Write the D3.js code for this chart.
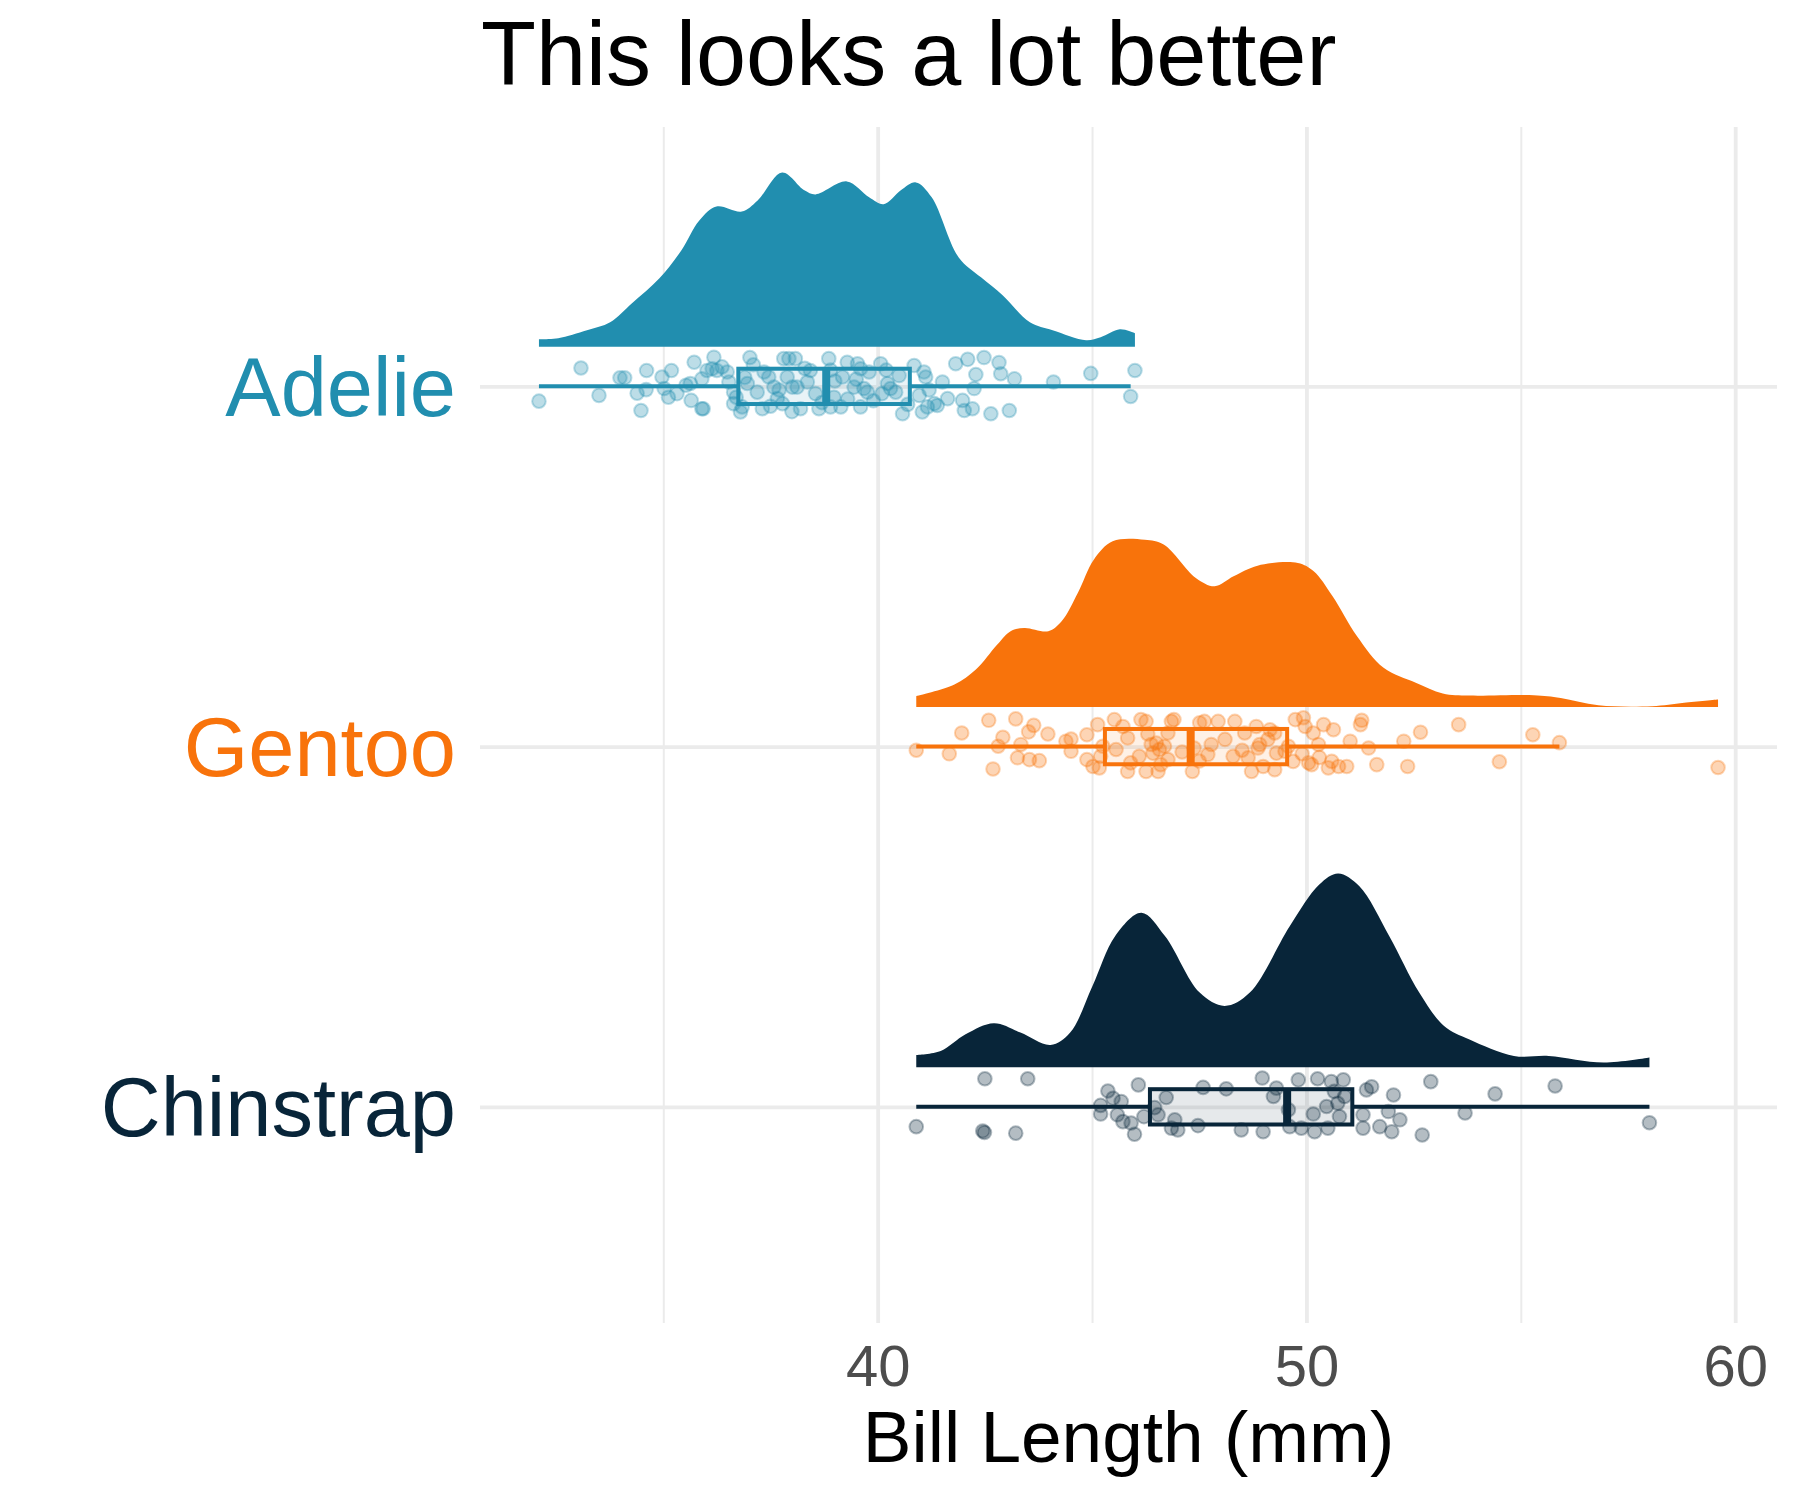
<!DOCTYPE html>
<html>
<head>
<meta charset="utf-8">
<script src="https://cdn.jsdelivr.net/npm/d3@7"></script>
<style>
  body { margin: 0; background: #fff; }
  svg { font-family: "Liberation Sans", Arial, Helvetica, sans-serif; }
</style>
</head>
<body>
<div id="chart"></div>
<script>
// species from top to bottom, colours
const species = ['Adelie', 'Gentoo', 'Chinstrap'];
const speciesColors = ['#218EAF', '#F8730B', '#082539'];
const majorTicks = [40, 50, 60];
const minorTicks = [35, 45, 55];

// density outline of each half-eye: [bill length, relative thickness]
const adelieDensity = [
  [32.1, 0.039], [32.55, 0.044], [33.22, 0.085], [33.76, 0.126], [34.27, 0.224],
  [34.91, 0.353], [35.42, 0.497], [35.84, 0.652], [36.24, 0.724], [36.83, 0.698],
  [37.2, 0.755], [37.77, 0.899], [38.29, 0.807], [38.55, 0.786], [39.28, 0.853],
  [39.8, 0.771], [40.14, 0.735], [40.54, 0.807], [40.89, 0.848], [41.26, 0.771],
  [41.89, 0.461], [42.41, 0.358], [42.92, 0.265], [43.55, 0.126], [44.08, 0.085],
  [44.86, 0.034], [45.2, 0.049], [45.65, 0.09], [46.0, 0.07]
];
const gentooDensity = [
  [40.9, 0.056], [41.79, 0.116], [42.29, 0.193], [42.79, 0.322], [43.1, 0.391],
  [43.42, 0.408], [43.98, 0.391], [44.29, 0.442], [44.67, 0.589], [45.04, 0.76],
  [45.48, 0.855], [46.23, 0.863], [46.67, 0.838], [47.42, 0.666], [47.86, 0.623],
  [48.3, 0.674], [48.86, 0.729], [49.8, 0.743], [50.17, 0.7], [50.61, 0.571],
  [51.18, 0.365], [51.8, 0.202], [52.55, 0.125], [53.18, 0.07], [53.8, 0.059],
  [55.3, 0.061], [55.93, 0.047], [56.81, 0.009], [58.06, 0.004], [58.81, 0.022],
  [59.6, 0.039]
];
const chinstrapDensity = [
  [40.9, 0.063], [41.47, 0.084], [42.05, 0.17], [42.71, 0.227], [43.33, 0.179],
  [44.03, 0.115], [44.49, 0.179], [45.01, 0.419], [45.54, 0.677], [46.15, 0.797],
  [46.7, 0.677], [47.51, 0.385], [48.09, 0.316], [48.68, 0.385], [49.61, 0.728],
  [50.3, 0.943], [50.74, 1.0], [51.23, 0.935], [51.93, 0.677], [52.63, 0.385],
  [53.21, 0.213], [53.79, 0.144], [54.84, 0.058], [55.65, 0.058], [56.93, 0.024],
  [58.0, 0.05]
];

// box stats: [lower whisker, q1, median, q3, upper whisker]
const adelieBox = [32.1, 36.75, 38.8, 40.75, 45.9];
const gentooBox = [40.9, 45.3, 47.3, 49.55, 55.9];
const chinstrapBox = [40.9, 46.35, 49.55, 51.07, 58.0];

// jittered observations: [bill length, vertical jitter in category units]
const adeliePoints = [
  [32.1, .041], [33.08, -.051], [33.5, .025], [33.99, -.024], [34.1, -.024], [34.39, .019],
  [34.48, .067], [34.61, -.044], [34.6, .009], [34.97, -.026], [35.02, .006], [35.19, -.044],
  [35.12, .03], [35.32, .02], [35.53, -.003], [35.63, -.008], [35.65, .039], [35.72, -.067],
  [35.9, .062], [35.93, .062], [35.9, -.021], [36.02, -.044], [36.18, -.081], [36.14, -.049],
  [36.25, -.044], [36.37, -.054], [36.49, -.04], [36.53, -.012], [36.64, .048], [36.8, .071],
  [36.84, .057], [36.64, .016], [37.02, -.08], [36.96, -.008], [37.19, .016], [37.31, .062],
  [37.35, -.04], [37.46, -.026], [37.58, .002], [37.66, .034], [37.78, .048], [37.81, -.077],
  [37.89, -.026], [37.93, -.077], [38.01, .002], [38.08, -.077], [38.12, .002], [38.2, .062],
  [38.36, -.012], [38.43, -.044], [38.55, .02], [38.63, .062], [38.86, -.077], [38.9, .057],
  [38.98, .03], [39.14, .057], [39.18, -.026], [39.29, -.067], [39.45, .002], [39.53, -.063],
  [39.6, -.049], [39.6, .057], [39.68, .006], [39.76, .016], [39.8, -.04], [40.07, -.063],
  [40.23, -.008], [40.3, .006], [40.42, .016], [40.58, .076], [40.85, -.058], [40.97, .025],
  [41.08, -.04], [41.12, -.026], [41.04, .071], [41.16, .057], [41.32, .048], [41.39, .053],
  [41.51, -.012], [41.63, .034], [41.82, -.063], [41.98, .039], [42.02, .067], [42.1, -.075],
  [42.21, .062], [42.25, .006], [42.29, -.033], [42.48, -.08], [42.64, .076], [42.83, -.066],
  [42.87, -.035], [43.07, .067], [43.19, -.021], [44.1, -.012], [44.97, -.036], [45.9, .028],
  [46.0, -.044],
  [36.7, .03], [37.1, -.06], [37.7, .01], [38.0, .07], [38.3, -.05], [38.7, .045],
  [39.0, -.015], [39.3, .035], [39.9, .04], [40.1, .02], [40.5, -.03], [40.7, .05],
  [37.5, .055], [38.9, -.045], [39.5, -.02], [40.2, -.045], [36.9, -.025], [41.2, .01]
];
const gentooPoints = [
  [40.9, .01], [41.67, .02], [41.96, -.038], [42.59, -.073], [42.69, .062], [42.81, -.001],
  [42.92, -.026], [43.22, -.077], [43.26, .031], [43.34, -.006], [43.52, -.041], [43.64, -.059],
  [43.54, .036], [43.77, .039], [43.97, -.035], [44.39, -.015], [44.51, -.021], [44.51, .013],
  [44.88, -.033], [44.88, .036], [45.02, .055], [45.13, -.061], [45.17, .059], [45.2, .027],
  [45.25, -.001], [45.52, -.075], [45.56, .008], [45.72, -.056], [45.83, .069], [45.83, -.024],
  [46.1, .027], [46.14, -.075], [46.26, -.07], [46.26, .069], [46.38, -.006], [46.42, .018],
  [46.5, -.01], [46.54, .069], [46.57, .008], [46.69, -.001], [46.77, .036], [46.85, -.07],
  [46.91, -.075], [46.77, -.038], [47.34, .069], [47.38, .004], [47.51, -.066], [47.62, -.07],
  [47.7, .022], [47.78, -.006], [47.94, -.07], [48.29, .027], [48.33, -.07], [48.56, -.038],
  [48.64, .031], [48.72, .069], [48.83, -.056], [48.87, .004], [48.91, -.006], [48.99, .055],
  [49.15, -.047], [49.26, .064], [49.3, .018], [49.26, -.038], [49.5, .013], [49.58, -.001],
  [49.69, .041], [49.74, -.075], [49.93, -.08], [49.97, -.056], [50.05, .045], [50.12, .05],
  [50.16, -.038], [50.28, -.006], [50.4, -.061], [50.51, .059], [50.63, -.047], [50.59, .041],
  [50.75, .055], [50.94, .055], [51.02, -.015], [51.26, -.061], [51.29, -.073], [51.45, .004],
  [51.64, .05], [52.27, -.015], [52.36, .055], [52.66, -.04], [53.55, -.061], [54.5, .042],
  [55.28, -.033], [55.9, -.011], [59.6, .058],
  [45.9, .045], [46.3, -.035], [46.6, .05], [47.1, .015], [47.5, .04], [48.1, -.02],
  [48.5, .01], [49.1, -.02], [49.9, .02], [50.3, .03]
];
const chinstrapPoints = [
  [40.9, .055], [42.5, -.078], [42.45, .067], [42.49, .071], [43.22, .073], [43.5, -.078],
  [45.2, -.004], [45.2, .02], [45.37, -.044], [45.49, -.024], [45.59, .022], [45.68, -.015],
  [45.72, .041], [45.91, .045], [45.99, .076], [46.08, -.061], [46.21, .027], [46.46, .002],
  [46.54, .022], [46.73, -.026], [46.85, .059], [46.93, .036], [47.0, .064], [47.47, .052],
  [47.59, -.054], [48.13, -.05], [48.48, .064], [48.99, .069], [48.97, -.08], [49.23, -.029],
  [49.3, -.052], [49.58, .008], [49.61, .055], [49.81, -.075], [49.88, .059], [50.16, .02],
  [50.19, .069], [50.26, -.078], [50.47, -.001], [50.5, .059], [50.58, -.07], [50.65, -.043],
  [50.73, -.01], [50.77, .027], [50.86, -.075], [50.89, -.029], [51.32, .022], [51.32, .059],
  [51.4, -.047], [51.52, -.056], [51.71, .055], [51.91, .013], [51.99, .069], [52.03, -.033],
  [52.18, .036], [52.7, .078], [52.9, -.07], [53.7, .017], [54.4, -.036], [55.8, -.058],
  [58.0, .044]
];

const densities = [adelieDensity, gentooDensity, chinstrapDensity];
const boxes = [adelieBox, gentooBox, chinstrapBox];
const points = [adeliePoints, gentooPoints, chinstrapPoints];

const W = 1800, H = 1500;
const panel = { left: 480, right: 1777, top: 127, bottom: 1323 };

const svg = d3.select('#chart')
  .append('svg')
  .attr('width', W)
  .attr('height', H);

// x: bill length, padded by 5% like ggplot
const allValues = points.flat().map(d => d[0]);
const [xmin, xmax] = d3.extent(allValues);
const pad = (xmax - xmin) * 0.05;
const x = d3.scaleLinear()
  .domain([xmin - pad, xmax + pad])
  .range([panel.left, panel.right]);

// y: species index, top species at 0
const y = d3.scaleLinear()
  .domain([-0.72, 2.6])
  .range([panel.top, panel.bottom]);

const slabOffset = 0.11;   // gap between slab baseline and category line
const slabScale = 0.538;   // thickness 1 -> this many category units
const boxHalf = 0.049;

const gridColor = '#EBEBEB';

// minor + major vertical grid
svg.append('g')
  .attr('transform', `translate(0,${panel.bottom})`)
  .call(d3.axisBottom(x).tickValues(minorTicks).tickSize(-(panel.bottom - panel.top)).tickFormat(''))
  .call(g => g.select('.domain').remove())
  .selectAll('line').attr('stroke', gridColor).attr('stroke-width', 2);

svg.append('g')
  .attr('transform', `translate(0,${panel.bottom})`)
  .call(d3.axisBottom(x).tickValues(majorTicks).tickSize(-(panel.bottom - panel.top)).tickFormat(''))
  .call(g => g.select('.domain').remove())
  .selectAll('line').attr('stroke', gridColor).attr('stroke-width', 3.8);

// horizontal grid at each species
svg.append('g')
  .attr('transform', `translate(${panel.left},0)`)
  .call(d3.axisLeft(y).tickValues([0, 1, 2]).tickSize(-(panel.right - panel.left)).tickFormat(''))
  .call(g => g.select('.domain').remove())
  .selectAll('line').attr('stroke', gridColor).attr('stroke-width', 3.8);

const area = d3.area()
  .curve(d3.curveCatmullRom.alpha(0.5));

species.forEach((name, i) => {
  const color = speciesColors[i];
  const g = svg.append('g').attr('class', 'species');

  // half-eye slab
  area
    .x(d => x(d[0]))
    .y0(() => y(i - slabOffset))
    .y1(d => y(i - slabOffset - d[1] * slabScale));
  g.append('path')
    .datum(densities[i])
    .attr('d', area)
    .attr('fill', color);

  // jittered raw points
  g.selectAll('circle')
    .data(points[i])
    .enter()
    .append('circle')
    .attr('cx', d => x(d[0]))
    .attr('cy', d => y(i + d[1]))
    .attr('r', 6.8)
    .attr('fill', color)
    .attr('fill-opacity', 0.3)
    .attr('stroke', color)
    .attr('stroke-opacity', 0.3)
    .attr('stroke-width', 2);

  // boxplot
  const [lo, q1, med, q3, hi] = boxes[i];
  g.append('line')
    .attr('x1', x(lo)).attr('x2', x(q1))
    .attr('y1', y(i)).attr('y2', y(i))
    .attr('stroke', color).attr('stroke-width', 4);
  g.append('line')
    .attr('x1', x(q3)).attr('x2', x(hi))
    .attr('y1', y(i)).attr('y2', y(i))
    .attr('stroke', color).attr('stroke-width', 4);
  g.append('rect')
    .attr('x', x(q1))
    .attr('y', y(i - boxHalf))
    .attr('width', x(q3) - x(q1))
    .attr('height', y(i + boxHalf) - y(i - boxHalf))
    .attr('fill', color)
    .attr('fill-opacity', 0.1)
    .attr('stroke', color)
    .attr('stroke-width', 4);
  g.append('line')
    .attr('x1', x(med)).attr('x2', x(med))
    .attr('y1', y(i - boxHalf)).attr('y2', y(i + boxHalf))
    .attr('stroke', color).attr('stroke-width', 8);
});

// species labels on the left
const yAxis = svg.append('g')
  .attr('transform', `translate(${panel.left},0)`)
  .call(d3.axisLeft(y).tickValues([0, 1, 2]).tickSize(0).tickPadding(24).tickFormat(i => species[i]))
  .call(g => g.select('.domain').remove());
yAxis.selectAll('text')
  .attr('font-size', 83)
  .attr('font-family', '"Liberation Sans", Arial, sans-serif')
  .attr('dy', '0.35em')
  .attr('fill', i => speciesColors[i]);

// x tick labels
const xAxis = svg.append('g')
  .attr('transform', `translate(0,${panel.bottom})`)
  .call(d3.axisBottom(x).tickValues(majorTicks).tickSize(0).tickPadding(22))
  .call(g => g.select('.domain').remove());
xAxis.selectAll('text')
  .attr('font-size', 58)
  .attr('font-family', '"Liberation Sans", Arial, sans-serif')
  .attr('fill', '#4D4D4D');

svg.append('text')
  .attr('x', (panel.left + panel.right) / 2)
  .attr('y', 1462)
  .attr('text-anchor', 'middle')
  .attr('font-size', 73)
  .attr('fill', '#000')
  .text('Bill Length (mm)');

svg.append('text')
  .attr('x', 481)
  .attr('y', 85)
  .attr('font-size', 90)
  .attr('fill', '#000')
  .text('This looks a lot better');
</script>
</body>
</html>
